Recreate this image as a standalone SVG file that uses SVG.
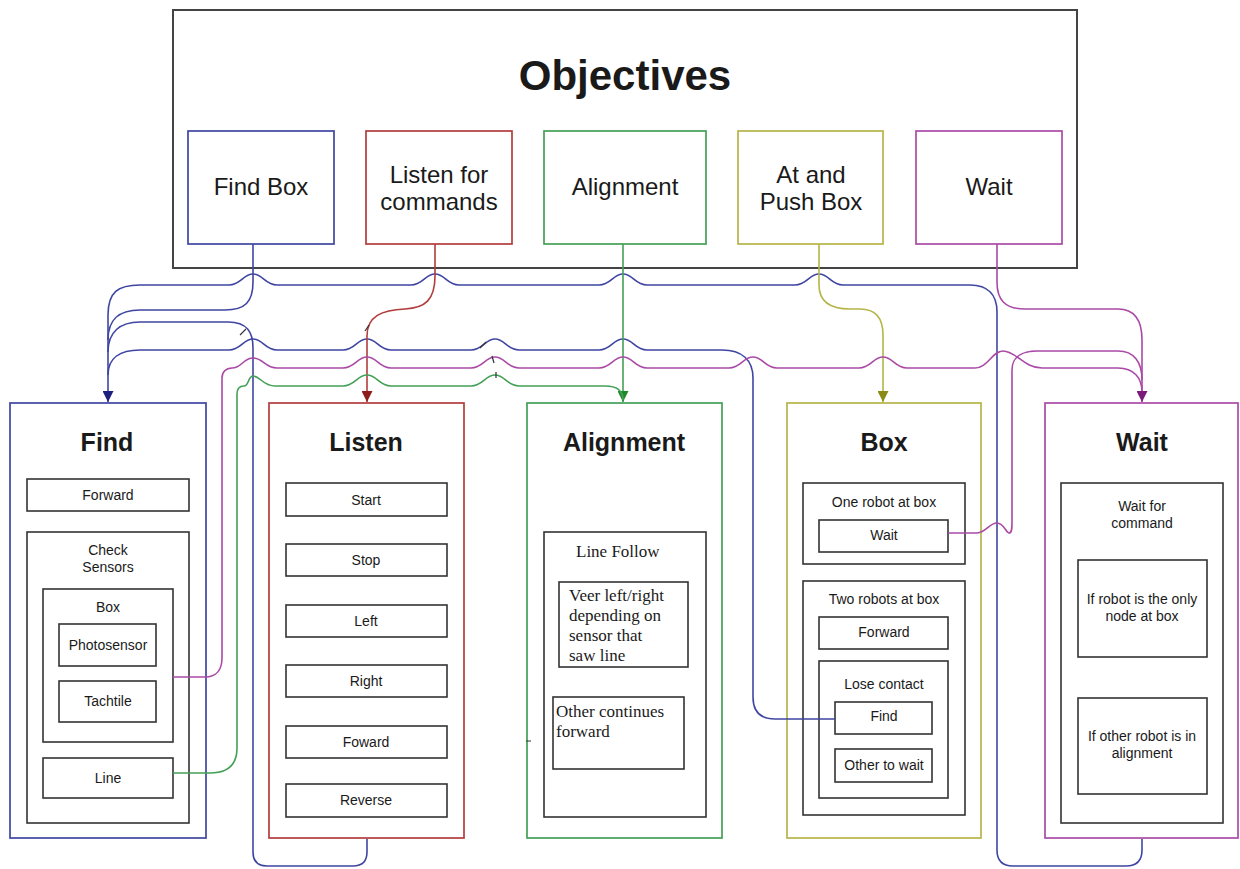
<svg xmlns="http://www.w3.org/2000/svg" width="1240" height="869" viewBox="0 0 1240 869">
<style>
.bg{fill:#fff}
.box{fill:none;stroke:#333;stroke-width:1.6}
.ob{fill:none;stroke:#444;stroke-width:2}
.kb{stroke:#3f46a2}.kr{stroke:#b23c3c}.kg{stroke:#43a057}.ky{stroke:#b5b548}.km{stroke:#aa4aa6}
.col{fill:none;stroke-width:1.7}
.w{fill:none;stroke-width:1.6}
.tk{stroke:#333;stroke-width:1.2}
text{font-family:"Liberation Sans",Arial,sans-serif;fill:#1a1a1a;text-anchor:middle}
.s{font-size:14px}
.o{font-size:24px}
.h{font-size:25px;font-weight:bold}
.big{font-size:42px;font-weight:bold}
.sr{font-family:"Liberation Serif","Times New Roman",serif;font-size:17px;text-anchor:start}
</style>
<defs>
<marker id="ab" viewBox="0 0 10 10" refX="10" refY="5" markerWidth="12" markerHeight="11" markerUnits="userSpaceOnUse" orient="auto"><path d="M0,0L10,5L0,10z" fill="#1d1f7e"/></marker>
<marker id="ar" viewBox="0 0 10 10" refX="10" refY="5" markerWidth="12" markerHeight="11" markerUnits="userSpaceOnUse" orient="auto"><path d="M0,0L10,5L0,10z" fill="#8e1c1c"/></marker>
<marker id="ag" viewBox="0 0 10 10" refX="10" refY="5" markerWidth="12" markerHeight="11" markerUnits="userSpaceOnUse" orient="auto"><path d="M0,0L10,5L0,10z" fill="#1f8a2a"/></marker>
<marker id="ay" viewBox="0 0 10 10" refX="10" refY="5" markerWidth="12" markerHeight="11" markerUnits="userSpaceOnUse" orient="auto"><path d="M0,0L10,5L0,10z" fill="#8a8a14"/></marker>
<marker id="am" viewBox="0 0 10 10" refX="10" refY="5" markerWidth="12" markerHeight="11" markerUnits="userSpaceOnUse" orient="auto"><path d="M0,0L10,5L0,10z" fill="#7c1a7c"/></marker>
</defs>
<rect class="bg" x="0" y="0" width="1240" height="869"/>

<g id="objectives">
<rect class="ob" x="173" y="10" width="904" height="258"/>
<text class="big" x="625" y="90">Objectives</text>
<g id="obj-find"><rect class="col kb" x="188" y="131" width="146" height="113"/><text class="o" x="261" y="195">Find Box</text></g>
<g id="obj-listen"><rect class="col kr" x="366" y="131" width="146" height="113"/><text class="o" x="439" y="183">Listen for</text><text class="o" x="439" y="210">commands</text></g>
<g id="obj-align"><rect class="col kg" x="544" y="131" width="162" height="113"/><text class="o" x="625" y="195">Alignment</text></g>
<g id="obj-box"><rect class="col ky" x="738" y="131" width="145" height="113"/><text class="o" x="811" y="183">At and</text><text class="o" x="811" y="210">Push Box</text></g>
<g id="obj-wait"><rect class="col km" x="916" y="131" width="146" height="113"/><text class="o" x="989" y="195">Wait</text></g>
</g>

<g id="find">
<rect class="col kb" x="10" y="403" width="196" height="435"/>
<text class="h" x="107" y="451">Find</text>
<g id="find-forward"><rect class="box" x="27" y="479" width="162" height="32"/><text class="s" x="108" y="500">Forward</text></g>
<g id="find-check"><rect class="box" x="27" y="532" width="162" height="291"/><text class="s" x="108" y="555">Check</text><text class="s" x="108" y="572">Sensors</text>
<g id="find-box"><rect class="box" x="43" y="589" width="130" height="153"/><text class="s" x="108" y="612">Box</text>
<g id="find-photo"><rect class="box" x="59" y="624" width="97" height="42"/><text class="s" x="108" y="650">Photosensor</text></g>
<g id="find-tact"><rect class="box" x="59" y="681" width="97" height="41"/><text class="s" x="108" y="706">Tachtile</text></g>
</g>
<g id="find-line"><rect class="box" x="43" y="758" width="130" height="40"/><text class="s" x="108" y="783">Line</text></g>
</g>
</g>

<g id="listen">
<rect class="col kr" x="269" y="403" width="195" height="435"/>
<text class="h" x="366" y="451">Listen</text>
<g id="l-start"><rect class="box" x="286" y="483" width="161" height="33"/><text class="s" x="366" y="505">Start</text></g>
<g id="l-stop"><rect class="box" x="286" y="544" width="161" height="32"/><text class="s" x="366" y="565">Stop</text></g>
<g id="l-left"><rect class="box" x="286" y="605" width="161" height="32"/><text class="s" x="366" y="626">Left</text></g>
<g id="l-right"><rect class="box" x="286" y="665" width="161" height="32"/><text class="s" x="366" y="686">Right</text></g>
<g id="l-foward"><rect class="box" x="286" y="726" width="161" height="32"/><text class="s" x="366" y="747">Foward</text></g>
<g id="l-reverse"><rect class="box" x="286" y="784" width="161" height="33"/><text class="s" x="366" y="805">Reverse</text></g>
</g>

<g id="alignment">
<rect class="col kg" x="527" y="403" width="195" height="435"/>
<text class="h" x="624" y="451">Alignment</text>
<g id="a-linefollow"><rect class="box" x="544" y="532" width="162" height="285"/><text class="sr" x="576" y="557">Line Follow</text>
<g id="a-veer"><rect class="box" x="559" y="582" width="129" height="85"/><text class="sr" x="569" y="601">Veer left/right</text><text class="sr" x="569" y="621">depending on</text><text class="sr" x="569" y="641">sensor that</text><text class="sr" x="569" y="661">saw line</text></g>
<g id="a-other"><rect class="box" x="553" y="697" width="131" height="72"/><text class="sr" x="556" y="717">Other continues</text><text class="sr" x="556" y="737">forward</text></g>
</g>
</g>

<g id="box">
<rect class="col ky" x="787" y="403" width="194" height="435"/>
<text class="h" x="884" y="451">Box</text>
<g id="b-one"><rect class="box" x="803" y="483" width="162" height="81"/><text class="s" x="884" y="507">One robot at box</text>
<g id="b-wait"><rect class="box" x="819" y="520" width="129" height="32"/><text class="s" x="884" y="540">Wait</text></g>
</g>
<g id="b-two"><rect class="box" x="803" y="581" width="162" height="234"/><text class="s" x="884" y="604">Two robots at box</text>
<g id="b-forward"><rect class="box" x="819" y="617" width="129" height="32"/><text class="s" x="884" y="637">Forward</text></g>
<g id="b-lose"><rect class="box" x="819" y="661" width="129" height="137"/><text class="s" x="884" y="689">Lose contact</text>
<g id="b-find"><rect class="box" x="835" y="702" width="97" height="32"/><text class="s" x="884" y="721">Find</text></g>
<g id="b-otherwait"><rect class="box" x="835" y="749" width="97" height="33"/><text class="s" x="884" y="770">Other to wait</text></g>
</g>
</g>
</g>

<g id="wait">
<rect class="col km" x="1045" y="403" width="193" height="435"/>
<text class="h" x="1142" y="451">Wait</text>
<g id="w-cmd"><rect class="box" x="1061" y="483" width="162" height="340"/><text class="s" x="1142" y="511">Wait for</text><text class="s" x="1142" y="528">command</text>
<g id="w-only"><rect class="box" x="1078" y="560" width="129" height="97"/><text class="s" x="1142" y="604">If robot is the only</text><text class="s" x="1142" y="621">node at box</text></g>
<g id="w-align"><rect class="box" x="1078" y="698" width="129" height="96"/><text class="s" x="1142" y="741">If other robot is in</text><text class="s" x="1142" y="758">alignment</text></g>
</g>
</g>

<g id="connectors">
<path class="w kb" marker-end="url(#ab)" d="M1142 839L1142 850Q1142 866 1126 866L1013 866Q997 866 997 850L997 312C997 295 988 285 970 285L843 285C831 285 829 274 819 274C809 274 807 285 795 285L647 285C635 285 633 274 623 274C613 274 611 285 599 285L459 285C447 285 445 274 435 274C425 274 423 285 411 285L277 285C265 285 263 274 253 274C243 274 241 285 229 285L140 285C118 285 108 292 108 315L108 402"/>
<path class="w kb" d="M253 244L253 282C253 302 245 310 225 310L140 310C120 310 108 318 108 340"/>
<path class="w kb" d="M367 839L367 852Q367 866 353 866L267 866Q253 866 253 852L253 348C253 332 247 322 228 322L140 322C120 322 108 332 108 352"/>
<path class="w kb" d="M835 719L775 719C760 719 753 712 753 697L753 378C753 360 742 350 722 350L647 350C635 350 633 339 623 339C613 339 611 350 599 350L519 350C507 350 505 339 495 339C485 339 483 350 471 350L391 350C379 350 377 339 367 339C357 339 355 350 343 350L277 350C265 350 263 339 253 339C243 339 241 350 229 350L140 350C120 350 108 358 108 375"/>
<path class="w kr" marker-end="url(#ar)" d="M435 244L435 276C435 300 425 308 405 309C382 310 367 316 367 336L367 402"/>
<path class="w kg" marker-end="url(#ag)" d="M623 244L623 402"/>
<path class="w kg" d="M173 773L210 773C228 773 237 765 237 748L237 394C237 388 240 386 244 386C249 386 248 376 253 376C260 376 263 386 275 386L343 386C355 386 357 375 367 375C377 375 379 386 391 386L471 386C483 386 485 375 495 375C505 375 507 386 519 386L605 386C617 386 623 391 623 400"/>
<path class="w ky" marker-end="url(#ay)" d="M819 244L819 285C819 302 830 309 850 309L860 309C876 309 883 318 883 335L883 402"/>
<path class="w km" d="M173 677L205 677C216 677 222 670 222 658L222 378C222 372 226 368 232 368C242 368 243 358 253 358C263 358 265 368 277 368L343 368C355 368 357 357 367 357C377 357 379 368 391 368L471 368C483 368 485 357 495 357C505 357 507 368 519 368L599 368C611 368 613 357 623 357C633 357 635 368 647 368L729 368C741 368 743 357 753 357C763 357 765 368 777 368L859 368C871 368 873 357 883 357C893 357 895 368 907 368L975 368C988 368 992 351 1003 351C1016 351 1024 368 1042 368L1118 368C1134 368 1142 378 1142 392"/>
<path class="w km" d="M948 533L976 533C986 533 989 523 997 523C1004 523 1006 533 1009 533C1012 533 1012 528 1012 522L1012 370C1012 357 1022 351 1037 351L1118 351C1134 351 1142 362 1142 380"/>
<path class="w km" marker-end="url(#am)" d="M997 244L997 282C997 300 1005 309 1025 309L1118 309C1134 309 1142 320 1142 340L1142 402"/>
<g id="ticks">
<path class="tk" d="M240 335L246 329M480 348L486 342M492 356L494 363M496 372L496 378M365 331L369 325M526 741L531 741"/>
</g>
</g>
</svg>
